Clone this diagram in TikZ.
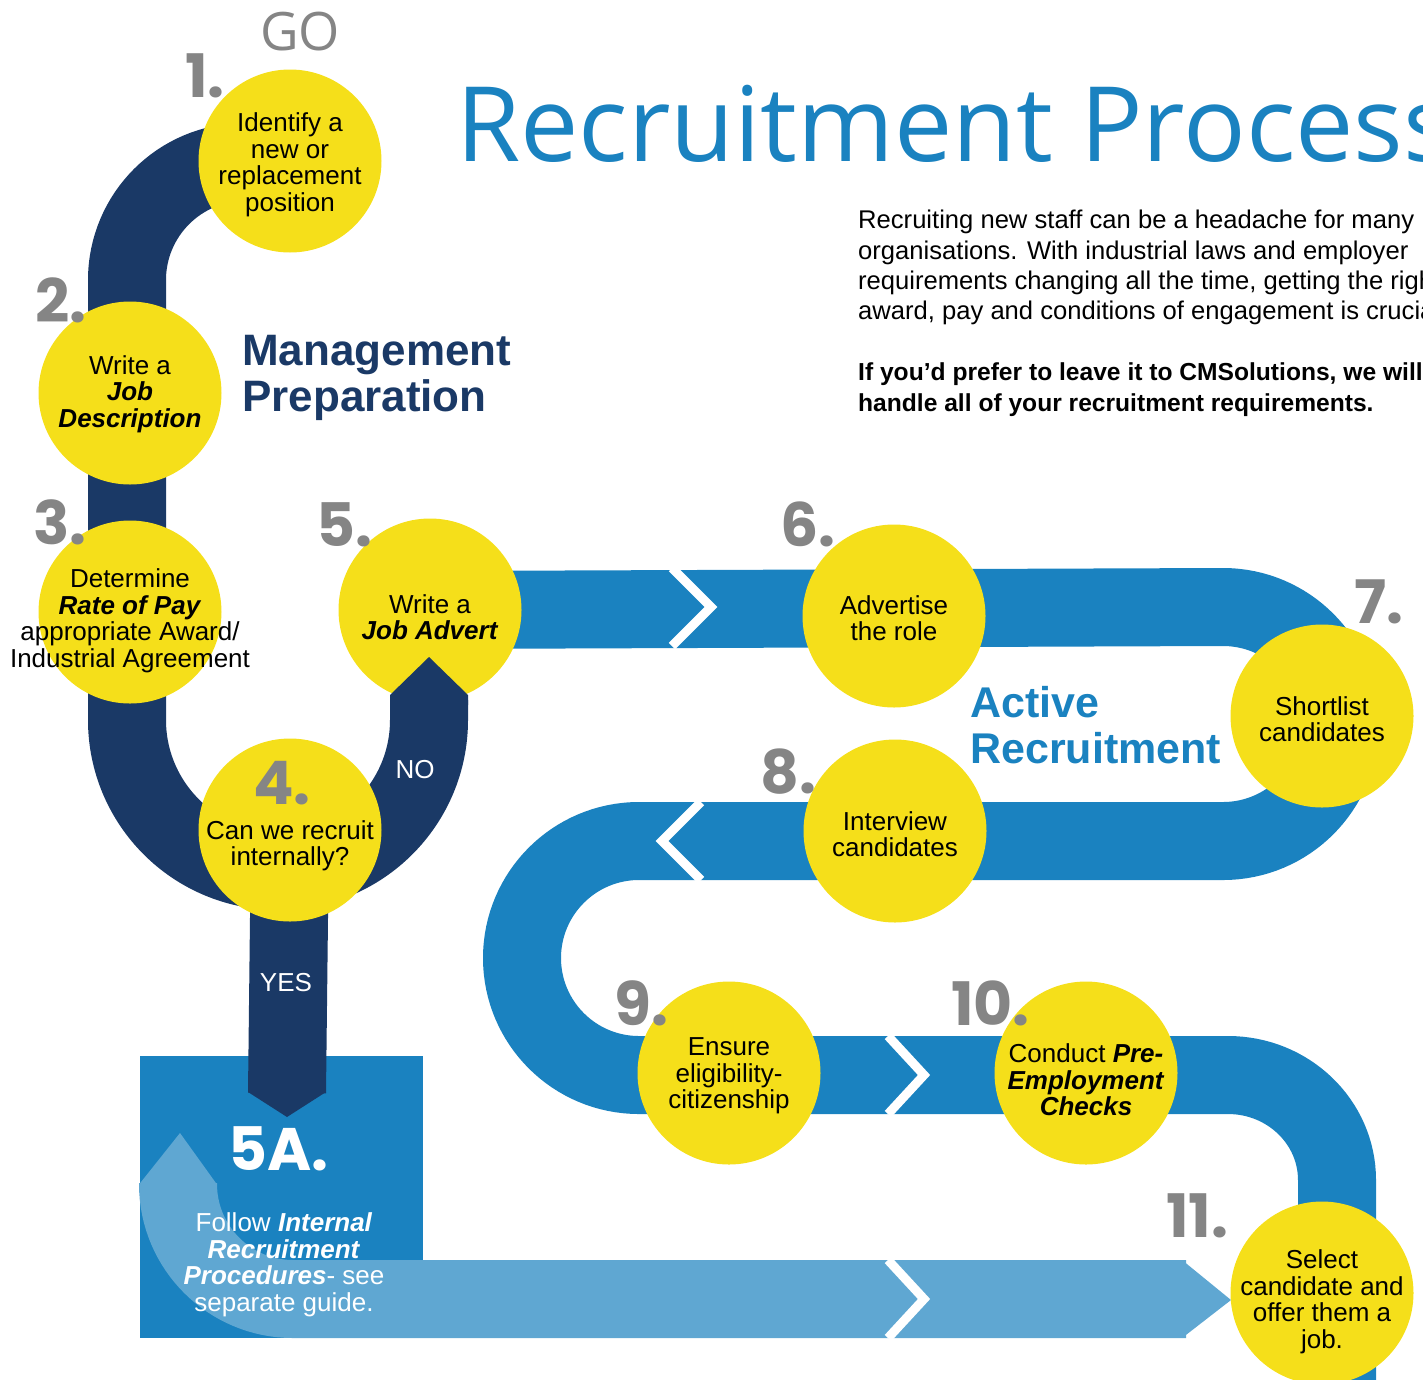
\documentclass[tikz,border=0pt]{standalone}
\usepackage{fontspec}
\setmainfont{Liberation Sans}
\newfontfamily\titlefont{Open Sans}
\newfontfamily\numfont{Poppins}
\definecolor{navy}{HTML}{1A3966}
\definecolor{track}{HTML}{1A82C0}
\definecolor{pale}{HTML}{5FA7D2}
\definecolor{sun}{HTML}{F5DF1A}
\definecolor{stone}{HTML}{858585}
\newcommand{\boldit}[1]{\textbf{\textit{#1}}}

\begin{document}
\begin{tikzpicture}
        [x=1pt, y=-1pt,
        stepnode/.style={circle, fill=sun, minimum size=183pt, inner sep=0pt},
        steptext/.style={align=center, inner sep=0pt, font=\fontsize{26}{26.5}\selectfont},
        num/.style={anchor=base west, inner sep=0pt, text=stone, font=\numfont\bfseries\fontsize{60}{60}\selectfont},
        navyband/.style={navy, line width=78pt},
        blueband/.style={track, line width=78pt},
        paleband/.style={pale, line width=78pt},
        cut/.style={white, line width=9pt, miter limit=10},
        answer/.style={text=white, inner sep=0pt, font=\fontsize{26}{26}\selectfont}]

        \useasboundingbox (0,0) rectangle (1423,1379);
        \clip (0,0) rectangle (1423,1379);

        % step circles (drawn later, named first)
        \path (290,161) coordinate (p1) (130,393) coordinate (p2)
              (130,612) coordinate (p3) (290,830) coordinate (p4)
              (430,610) coordinate (p5) (894,616) coordinate (p6)
              (1322,716) coordinate (p7) (895,831) coordinate (p8)
              (729,1073) coordinate (p9) (1086,1073) coordinate (p10)
              (1322,1293) coordinate (p11);

        % box 5A
        \fill[track] (140,1056) rectangle (423,1338);

        % internal route (pale band)
        \coordinate (palestart) at (178,1183);
        \coordinate (paleend) at (1186,1299);
        \draw[paleband] (palestart) -- (178,1184) arc (180:90:115) -- (paleend);
        \fill[pale] (139,1184.5) -- (180,1133) -- (217,1184.5) -- cycle;
        \fill[pale] (1182,1260) -- (1231,1300) -- (1182,1338) -- cycle;
        \draw[cut] (888,1260) -- (924,1299) -- (888,1338);

        % management track (navy)
        \draw[navyband] (p1) -- (245,162) arc (270:180:118) -- (127,720)
              arc (180:0:151 and 151) -- (429,700);
        \draw[navyband] (p4) -- (287,1093);
        \fill[navy] (248,1092) -- (287,1117) -- (326,1092) -- cycle;

        % active recruitment track (blue)
        \draw[blueband] (p5) -- (1223,607) arc (-90:90:117) -- (639,841)
              arc (270:90:117) -- (1228,1075) arc (-90:0:109 and 105) -- (1337,1400);
        \draw[cut] (672,568) -- (711,607) -- (672,646);
        \draw[cut] (701,802) -- (662,841) -- (701,880);
        \draw[cut] (888,1036) -- (924,1075) -- (888,1114);

        \node[stepnode] (s1) at (p1) {};
        \node[stepnode] (s2) at (p2) {};
        \node[stepnode] (s3) at (p3) {};
        \node[stepnode] (s4) at (p4) {};
        \node[stepnode] (s5) at (p5) {};
        \node[stepnode] (s6) at (p6) {};
        \node[stepnode] (s7) at (p7) {};
        \node[stepnode] (s8) at (p8) {};
        \node[stepnode] (s9) at (p9) {};
        \node[stepnode] (s10) at (p10) {};
        \node[stepnode] (s11) at (p11) {};

        % NO branch ends in a point over step 5
        \fill[navy] (390,705) -- (390,695) -- (429,657) -- (468,695) -- (468,705) -- cycle;

        % texts in the circles
        \node[steptext] (t1) at ([yshift=-4pt]s1.center) {Identify a\\new or\\replacement\\position};
        \node[steptext] (t2) at ([yshift=-1pt]s2.center) {Write a\\\boldit{Job}\\\boldit{Description}};
        \node[steptext] (t3) at ([yshift=-9pt]s3.center) {Determine\\\boldit{Rate of Pay}\\appropriate Award/\\Industrial Agreement};
        \node[steptext] (t4) at ([yshift=-16pt]s4.center) {Can we recruit\\internally?};
        \node[steptext] (t5) at ([yshift=-7pt]s5.center) {Write a\\\boldit{Job Advert}};
        \node[steptext] (t6) at ([yshift=-2pt]s6.center) {Advertise\\the role};
        \node[steptext] (t7) at ([yshift=-3pt]s7.center) {Shortlist\\candidates};
        \node[steptext] (t8) at ([yshift=-3pt]s8.center) {Interview\\candidates};
        \node[steptext] (t9) at ([yshift=-3pt]s9.center) {Ensure\\eligibility-\\citizenship};
        \node[steptext] (t10) at ([yshift=-7pt]s10.center) {Conduct \boldit{Pre-}\\\boldit{Employment}\\\boldit{Checks}};
        \node[steptext] (t11) at ([yshift=-9pt]s11.center) {Select\\candidate and\\offer them a\\job.};

        % step numbers
        \node[num] (n1) at (185,97) {1.};
        \node[num] (n2) at (35,322) {2.};
        \node[num] (n3) at (33,544) {3.};
        \node[num] (n4) at (253,804) {4.};
        \node[num] (n5) at (316,546) {5.};
        \node[num] (n6) at (780,546) {6.};
        \node[num] (n7) at (1354,623) {7.};
        \node[num] (n8) at (760,793) {8.};
        \node[num] (n9) at (614,1025) {9.};
        \node[num] (n10) at (951,1025) {10.};
        \node[num] (n11) at (1166,1237) {11.};
        \node[num, text=white] (n5a) at (228,1170) {5A.};

        \node[answer] (no) at (415,770) {NO};
        \node[answer] (yes) at (286,983) {YES};
        \node[steptext, text=white] (t5a) at (284,1265)
              {Follow \boldit{Internal}\\\boldit{Recruitment}\\\boldit{Procedures}- see\\separate guide.};

        % headings
        \node[text=stone, inner sep=0pt, font=\titlefont\fontsize{53}{53}\selectfont] (go) at (300,32) {GO};
        \node[anchor=base west, inner sep=0pt, text=track, font=\titlefont\fontsize{104}{104}\selectfont] (title)
              at (456,161) {Recruitment Process};
        \node[anchor=north west, align=left, inner sep=0pt, text=navy, font=\bfseries\fontsize{44}{46}\selectfont] (mgmt)
              at (242,335) {Management\\Preparation};
        \node[anchor=north west, align=left, inner sep=0pt, text=track, font=\bfseries\fontsize{43}{46}\selectfont] (active)
              at (970,686) {Active\\Recruitment};
        \node[anchor=north west, align=left, inner sep=0pt, font=\fontsize{25.6}{30.4}\selectfont] (intro)
              at (858,210) {Recruiting new staff can be a headache for many\\
              organisations. With industrial laws and employer\\
              requirements changing all the time, getting the right\\
              award, pay and conditions of engagement is crucial.\\[30.4pt]
              {\fontsize{24.6}{30.4}\selectfont\bfseries If you’d prefer to leave it to CMSolutions, we will}\\
              {\fontsize{24.6}{30.4}\selectfont\bfseries handle all of your recruitment requirements.}};

\end{tikzpicture}
\end{document}
